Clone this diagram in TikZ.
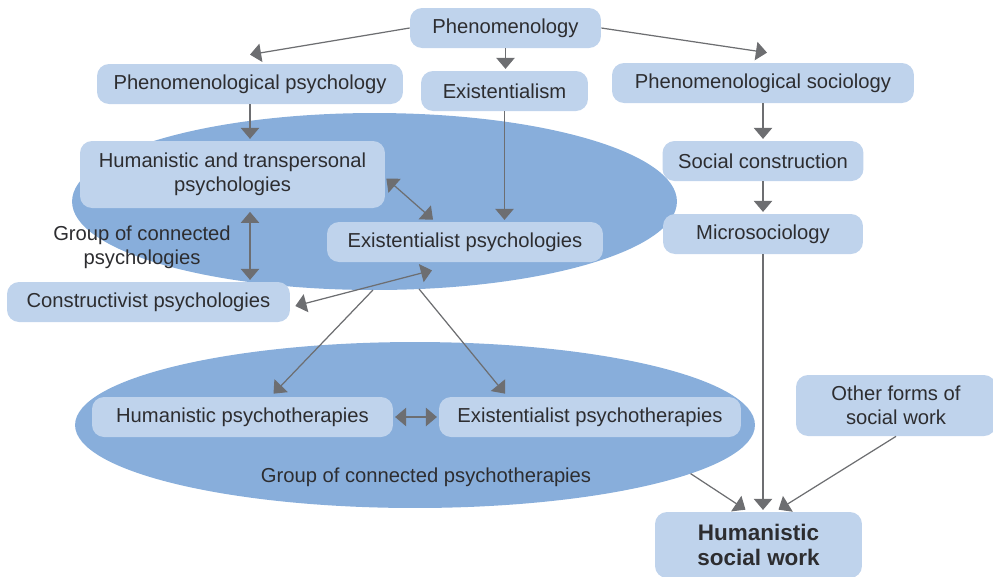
\documentclass[tikz,border=0pt]{standalone}
\usepackage{fontspec}
\setmainfont{Liberation Sans}
\usetikzlibrary{shapes.geometric, arrows.meta, calc}
\definecolor{boxblue}{RGB}{191, 211, 236}
\definecolor{groupblue}{RGB}{136, 174, 219}
\definecolor{linkgrey}{RGB}{109, 110, 113}
\definecolor{ink}{RGB}{45, 45, 48}

\begin{document}
\begin{tikzpicture}[x=0.02cm, y=-0.02cm,
    box/.style={rectangle, rounded corners=0.24cm, fill=boxblue, text=ink,
                minimum height=0.8cm, inner sep=2pt, align=center,
                font=\fontsize{11.5}{13.6}\selectfont},
    group/.style={ellipse, fill=groupblue, inner sep=0pt, outer sep=0pt},
    tag/.style={text=ink, align=center, font=\fontsize{11.5}{13.6}\selectfont},
    link/.style={draw=linkgrey, line width=0.7pt, -{Triangle[length=6.3pt, width=10.5pt]}},
    both/.style={link, {Triangle[length=6.3pt, width=10.5pt]}-{Triangle[length=6.3pt, width=10.5pt]}}]
    \useasboundingbox (0,0) rectangle (993,576);

    % groups behind the boxes
    \node[group, minimum width=12.1cm, minimum height=3.54cm] (grpA) at (374.5, 201.5) {};
    \node[group, minimum width=13.6cm, minimum height=3.32cm] (grpB) at (415, 425) {};

    \node[box, minimum width=3.82cm] (phen) at (505.5, 28) {Phenomenology};
    \node[box, minimum width=6.12cm] (phpsy) at (250, 84) {Phenomenological psychology};
    \node[box, minimum width=3.34cm] (exis) at (504.5, 91) {Existentialism};
    \node[box, minimum width=6.04cm] (psoc) at (763, 83) {Phenomenological sociology};

    \node[box, minimum width=6.1cm, minimum height=1.34cm] (hum) at (232.5, 174.5) {Humanistic and transpersonal\\psychologies};
    \node[box, minimum width=5.52cm] (exps) at (465, 242) {Existentialist psychologies};
    \node[box, minimum width=5.66cm] (cons) at (148.5, 302) {Constructivist psychologies};
    \node[tag] (grpAtag) at (142, 247) {Group of connected\\psychologies};

    \node[box, minimum width=4.02cm] (soc) at (763, 161) {Social construction};
    \node[box, minimum width=4.0cm] (micro) at (763, 234) {Microsociology};

    \node[box, minimum width=6.02cm] (hpt) at (242.5, 417) {Humanistic psychotherapies};
    \node[box, minimum width=6.04cm] (ept) at (590, 417) {Existentialist psychotherapies};
    \node[tag] (grpBtag) at (426, 477) {Group of connected psychotherapies};

    \node[box, minimum width=4.0cm, minimum height=1.22cm] (other) at (896, 405.5) {Other forms of\\social work};
    \node[box, minimum width=4.14cm, minimum height=1.32cm,
          font=\fontsize{12.8}{14.5}\selectfont\bfseries] (hsw) at (758.5, 545) {Humanistic\\social work};

    % links
    \draw[link] (phen.west) -- ($(phpsy.north)+(0,-9)$);
    \draw[link, shorten >=1pt] (phen.south) -- (phen.south |- exis.north);
    \draw[link] (phen.east) -- ($(psoc.north)+(4,-10)$);
    \draw[link, shorten >=1pt] (phpsy.south) -- (phpsy.south |- hum.north);
    \draw[link, shorten >=1pt] (exis.south) -- (exis.south |- exps.north);
    \draw[both] ($(hum.east)+(1,4)$) -- ($(exps.north)+(-32,-2)$);
    \draw[both, shorten <=2pt, shorten >=1pt] (hum.south -| phpsy.south) -- (cons.north -| phpsy.south);
    \draw[both] ($(cons.east)+(5,4)$) -- ($(exps.south)+(-33,8)$);
    \draw[link, shorten >=1pt] (psoc.south) -- (psoc.south |- soc.north);
    \draw[link, shorten >=1pt] (soc.south) -- (soc.south |- micro.north);

    \draw[link] (grpA.269) -- ($(hpt.north)+(31,-3)$);
    \draw[link] (grpA.297) -- ($(ept.north)+(-85,-3)$);
    \draw[both, shorten <=1pt, shorten >=1pt] (hpt) -- (ept);

    \draw[link] (grpB.350) -- ($(hsw.north)+(-13,-2)$);
    \draw[link, shorten >=1pt] (micro.south) -- (micro.south |- hsw.north);
    \draw[link] (other.south) -- ($(hsw.north)+(20,-2)$);
\end{tikzpicture}
\end{document}
